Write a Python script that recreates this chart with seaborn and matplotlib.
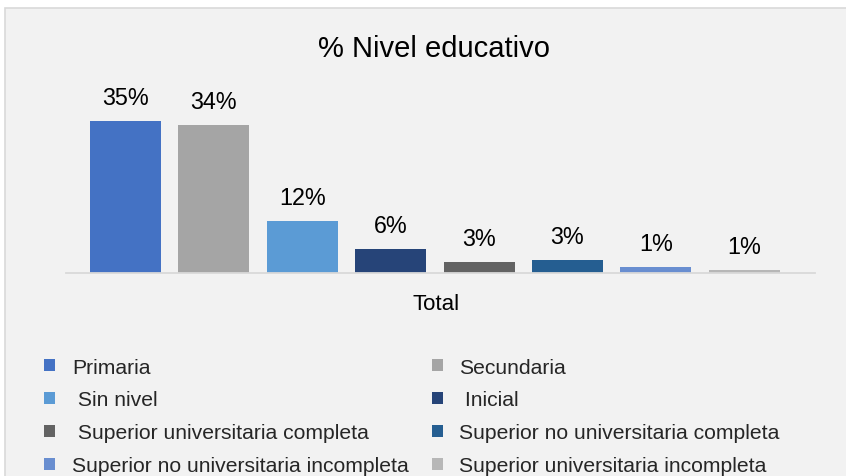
import matplotlib
matplotlib.use("Agg")
import matplotlib.pyplot as plt
from matplotlib.patches import Rectangle, Patch
import seaborn as sns
import pandas as pd

# ---- data ----
categories = [
    "Primaria", "Secundaria", " Sin nivel", " Inicial",
    " Superior universitaria completa", "Superior no universitaria completa",
    "Superior no universitaria incompleta", "Superior universitaria incompleta",
]
values = [35.2, 34.3, 12.0, 5.6, 2.6, 3.0, 1.4, 0.7]
colors = ["#4472C4", "#A5A5A5", "#5B9BD5", "#264478",
          "#636363", "#255E91", "#698ED0", "#B7B7B7"]
title = "% Nivel educativo"
xlabel = "Total"

sns.set_theme(style="white")
plt.rcParams["font.family"] = ["Liberation Sans", "DejaVu Sans"]

W, H = 846, 477
fig = plt.figure(figsize=(W / 100, H / 100), dpi=100, facecolor="white")

# chart area frame
fig.patches.append(Rectangle((4.5 / W, -0.05), 1.1, 1 - 8.5 / H + 0.05,
                             transform=fig.transFigure, facecolor="#F2F2F2",
                             edgecolor="#D9D9D9", linewidth=1.2, zorder=-10))

px_per_unit = 4.318
ylim_top = 40
ax_left, ax_right, base = 66, 815, 274
ax = fig.add_axes([ax_left / W, (H - base) / H, (ax_right - ax_left) / W,
                   ylim_top * px_per_unit / H])
ax.set_facecolor("none")
ax.set_zorder(2)

df = pd.DataFrame({"cat": categories, "val": values})
sns.barplot(data=df, x="cat", y="val", hue="cat", palette=dict(zip(categories, colors)),
            width=0.803, legend=False, ax=ax, saturation=1, linewidth=0)

ax.set_xlim(-0.673, 7.8)
ax.set_ylim(0, ylim_top)
for c in ax.containers:
    ax.bar_label(c, fmt="%.0f%%", padding=8.5, fontsize=16.8, color="#000000")

for s in ["top", "left", "right"]:
    ax.spines[s].set_visible(False)
ax.spines["bottom"].set_color("#D9D9D9")
ax.spines["bottom"].set_linewidth(1.3)
ax.set_xticks([])
ax.set_yticks([])
ax.set_ylabel("")
ax.set_xlabel(xlabel, fontsize=16, color="#000000")
ax.xaxis.set_label_coords(((436.5 - ax_left) / (ax_right - ax_left)),
                          -(310 - base) / (ylim_top * px_per_unit))
ax.xaxis.label.set_va("baseline")

fig.text(433.5 / W, 1 - 57 / H, title, ha="center", va="baseline",
         fontsize=21, color="#000000")

handles = [Patch(facecolor=c, edgecolor="none") for c in colors]
order = [0, 2, 4, 6, 1, 3, 5, 7]
fig.legend([handles[i] for i in order], [categories[i] for i in order],
           ncol=2, loc="upper left", bbox_to_anchor=(44 / W, 1 - 358.5 / H),
           bbox_transform=fig.transFigure, frameon=False, fontsize=15.2,
           handlelength=0.52, handleheight=0.52, handletextpad=0.8,
           columnspacing=1.09, labelspacing=0.66, borderpad=0, borderaxespad=0)

fig.savefig("out.png", dpi=100, facecolor="white")
